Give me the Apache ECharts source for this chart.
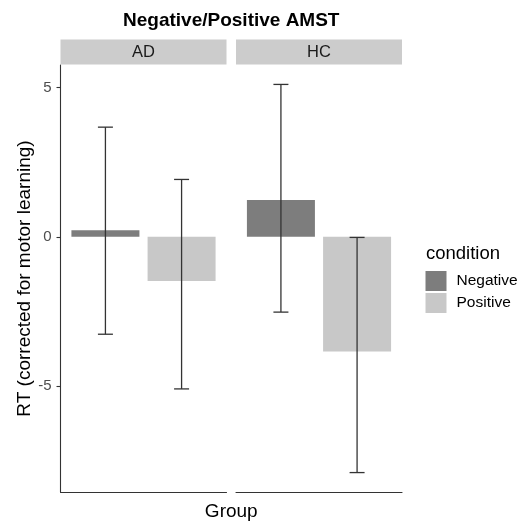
<!DOCTYPE html>
<html>
<head>
<meta charset="utf-8">
<script src="https://cdn.jsdelivr.net/npm/echarts@6/dist/echarts.min.js"></script>
<style>
  html, body { margin: 0; padding: 0; background: #ffffff; }
  #chart { width: 526px; height: 527px; }
</style>
</head>
<body>
<div id="chart"></div>
<script>
// Facet groups and condition labels
const groups = ['AD', 'HC'];
const conditions = ['Negative', 'Positive'];

// Mean RT per group (corrected for motor learning)
const negativeMean = [0.22, 1.23];
const positiveMean = [-1.48, -3.84];

// Error bar limits per group
const negativeLow = [-3.26, -2.52];
const negativeHigh = [3.67, 5.10];
const positiveLow = [-5.09, -7.89];
const positiveHigh = [1.92, -0.02];

// Y axis range and tick labels
const yMin = -8.54;
const yMax = 5.75;
const yTicks = [-5, 0, 5];

// Layout
const FONT = 'Liberation Sans, Arial, sans-serif';
const panelLeft = [60.5, 236];
const panelWidth = 166;
const panelTop = 65;
const panelBottom = 35;
const stripTop = 39.5;
const stripHeight = 25;
const barWidth = 68;
const barGapPct = 12;
const barStep = barWidth * (1 + barGapPct / 100) / 2;
const capHalf = 7.5;
const plotCenterX = (panelLeft[0] + panelLeft[1] + panelWidth) / 2;

const fillColors = { Negative: '#7d7d7d', Positive: '#c8c8c8' };
const axisColor = '#333333';

function errorRenderer(offset) {
  return function (params, api) {
    const cat = api.value(0);
    const lo = api.coord([cat, api.value(1)]);
    const hi = api.coord([cat, api.value(2)]);
    const x = lo[0] + offset;
    const style = { stroke: '#333333', lineWidth: 1.3 };
    return {
      type: 'group',
      children: [
        { type: 'line', shape: { x1: x, y1: lo[1], x2: x, y2: hi[1] }, style: style },
        { type: 'line', shape: { x1: x - capHalf, y1: lo[1], x2: x + capHalf, y2: lo[1] }, style: style },
        { type: 'line', shape: { x1: x - capHalf, y1: hi[1], x2: x + capHalf, y2: hi[1] }, style: style }
      ]
    };
  };
}

const grids = groups.map((g, i) => ({
  left: panelLeft[i],
  width: panelWidth,
  top: panelTop,
  bottom: panelBottom
}));

const xAxes = groups.map((g, i) => ({
  type: 'category',
  gridIndex: i,
  data: [g],
  boundaryGap: true,
  axisLine: { show: true, onZero: false, lineStyle: { color: axisColor, width: 1.1 } },
  axisTick: { show: false },
  axisLabel: { show: false },
  splitLine: { show: false }
}));

const yAxes = groups.map((g, i) => ({
  type: 'value',
  gridIndex: i,
  min: yMin,
  max: yMax,
  splitLine: { show: false },
  axisLine: { show: i === 0, onZero: false, lineStyle: { color: axisColor, width: 1.1 } },
  axisTick: {
    show: i === 0,
    length: 4,
    customValues: yTicks,
    lineStyle: { color: axisColor, width: 1.1 }
  },
  axisLabel: {
    show: i === 0,
    customValues: yTicks,
    margin: 9,
    color: '#4d4d4d',
    fontSize: 15,
    fontFamily: FONT
  },
  name: i === 0 ? 'RT (corrected for motor learning)' : '',
  nameLocation: 'middle',
  nameGap: 25,
  nameTextStyle: { color: '#000000', fontSize: 19, fontFamily: FONT }
}));

const series = [];
groups.forEach((g, i) => {
  series.push({
    name: 'Negative',
    type: 'bar',
    xAxisIndex: i,
    yAxisIndex: i,
    barWidth: barWidth,
    barGap: barGapPct + '%',
    itemStyle: { color: fillColors.Negative },
    data: [negativeMean[i]],
    silent: true
  });
  series.push({
    name: 'Positive',
    type: 'bar',
    xAxisIndex: i,
    yAxisIndex: i,
    barWidth: barWidth,
    barGap: barGapPct + '%',
    itemStyle: { color: fillColors.Positive },
    data: [positiveMean[i]],
    silent: true
  });
  series.push({
    name: 'err-neg-' + g,
    type: 'custom',
    xAxisIndex: i,
    yAxisIndex: i,
    renderItem: errorRenderer(-barStep),
    data: [[g, negativeLow[i], negativeHigh[i]]],
    z: 5,
    silent: true
  });
  series.push({
    name: 'err-pos-' + g,
    type: 'custom',
    xAxisIndex: i,
    yAxisIndex: i,
    renderItem: errorRenderer(barStep),
    data: [[g, positiveLow[i], positiveHigh[i]]],
    z: 5,
    silent: true
  });
});

function label(text, x, y, font, align, color) {
  return {
    type: 'text',
    x: x,
    y: y,
    style: {
      text: text,
      fill: color || '#000000',
      font: font,
      textAlign: align || 'center',
      textVerticalAlign: 'middle'
    },
    silent: true
  };
}

// Facet strips, titles and legend heading
const decorations = [];
groups.forEach((g, i) => {
  decorations.push({
    type: 'rect',
    left: panelLeft[i],
    top: stripTop,
    shape: { width: panelWidth, height: stripHeight },
    style: { fill: '#cccccc' },
    silent: true
  });
  decorations.push(label(g, panelLeft[i] + panelWidth / 2, stripTop + stripHeight / 2 + 0.5,
    '16.5px ' + FONT, 'center', '#1a1a1a'));
});
decorations.push(label('Negative/Positive AMST', plotCenterX, 20.5, 'bold 19px ' + FONT));
decorations.push(label('Group', plotCenterX, 511.5, '19px ' + FONT));
decorations.push(label('condition', 426, 254, '18.5px ' + FONT, 'left'));

const option = {
  backgroundColor: '#ffffff',
  animation: false,
  legend: {
    data: conditions,
    orient: 'vertical',
    left: 425.5,
    top: 271,
    itemWidth: 21,
    itemHeight: 20,
    itemGap: 2,
    icon: 'rect',
    selectedMode: false,
    textStyle: { fontFamily: FONT, fontSize: 15.5, color: '#000000', padding: [0, 0, 0, 5] },
    padding: 0
  },
  grid: grids,
  xAxis: xAxes,
  yAxis: yAxes,
  series: series,
  graphic: decorations
};

const chart = echarts.init(document.getElementById('chart'), null, { renderer: 'canvas' });
chart.setOption(option);
</script>
</body>
</html>
